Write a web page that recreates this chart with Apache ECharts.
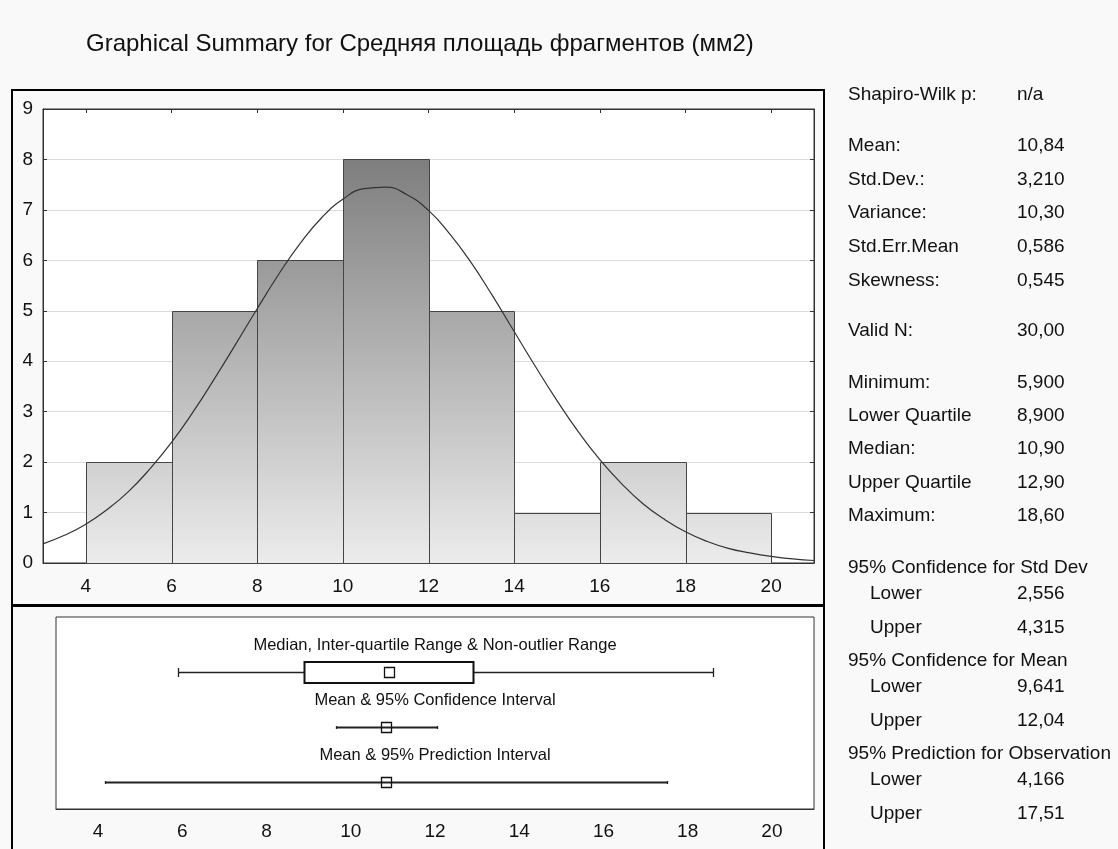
<!DOCTYPE html>
<html><head><meta charset="utf-8">
<script src="https://cdn.jsdelivr.net/npm/echarts@6/dist/echarts.min.js"></script>
<style>html,body{margin:0;padding:0;background:#f9f9f9}#c{width:1118px;height:849px}</style>
</head><body><div id="c"></div>
<script>
// ---------- data ----------
const titleText = 'Graphical Summary for Средняя площадь фрагментов (мм2)';
const binEdges = [4, 6, 8, 10, 12, 14, 16, 18, 20];
const binCounts = [2, 5, 6, 8, 5, 1, 2, 1];
const xTicks = [4, 6, 8, 10, 12, 14, 16, 18, 20];
const curveX = [3,3.5,4,4.5,5,5.5,6,6.5,7,7.5,8,8.5,9,9.5,10,10.5,11,11.5,12,12.5,13,13.5,14,14.5,15,15.5,16,16.5,17,17.5,18,18.5,19,19.5,20,20.5,21];
const curveY = [0.38,0.55,0.77,1.06,1.42,1.87,2.39,2.99,3.65,4.34,5.04,5.72,6.33,6.84,7.21,7.42,7.45,7.30,6.99,6.52,5.95,5.29,4.59,3.89,3.22,2.60,2.05,1.58,1.18,0.87,0.62,0.43,0.29,0.20,0.13,0.08,0.05];
const rangeSummary = [5.9, 8.9, 10.9, 12.9, 18.6]; // min, Q1, median, Q3, max
const meanCI = [9.641, 10.84, 12.04];             // lower, mean, upper
const meanPI = [4.166, 10.84, 17.51];             // lower, mean, upper
const boxRowLabels = ['Median, Inter-quartile Range & Non-outlier Range', 'Mean & 95% Confidence Interval', 'Mean & 95% Prediction Interval'];
const statLabels = ['Shapiro-Wilk p:', 'Mean:', 'Std.Dev.:', 'Variance:', 'Std.Err.Mean', 'Skewness:', 'Valid N:', 'Minimum:', 'Lower Quartile', 'Median:', 'Upper Quartile', 'Maximum:', '95% Confidence for Std Dev', 'Lower', 'Upper', '95% Confidence for Mean', 'Lower', 'Upper', '95% Prediction for Observation', 'Lower', 'Upper'];
const statValues = ['n/a', '10,84', '3,210', '10,30', '0,586', '0,545', '30,00', '5,900', '8,900', '10,90', '12,90', '18,60', '', '2,556', '4,315', '', '9,641', '12,04', '', '4,166', '17,51'];

// ---------- layout (not data) ----------
const statRowY = [95, 146, 180, 213, 247, 281, 331, 383, 416, 449, 483, 516, 568, 594, 628, 661, 687, 721, 754, 780, 814];
const statIndent = [0,0,0,0,0,0,0,0,0,0,0,0,0,1,1,0,1,1,0,1,1];
const FONT = '"Liberation Sans", Arial, sans-serif';
const TXT = '#111';

const chart = echarts.init(document.getElementById('c'));
const maxCount = Math.max.apply(null, binCounts);

const graphics = [
  { type: 'text', x: 86, y: 44, style: { text: titleText, font: '24px ' + FONT, fill: TXT, align: 'left', verticalAlign: 'middle' } },
  { type: 'line', shape: { x1: 12, y1: 90, x2: 12, y2: 860 }, style: { stroke: '#000', lineWidth: 2 } },
  { type: 'line', shape: { x1: 11, y1: 90, x2: 825, y2: 90 }, style: { stroke: '#000', lineWidth: 2 } },
  { type: 'line', shape: { x1: 824, y1: 90, x2: 824, y2: 860 }, style: { stroke: '#000', lineWidth: 2 } },
  { type: 'line', shape: { x1: 11, y1: 605.5, x2: 825, y2: 605.5 }, style: { stroke: '#000', lineWidth: 3 } }
];
statLabels.forEach(function (lab, i) {
  graphics.push({ type: 'text', x: statIndent[i] ? 870 : 848, y: statRowY[i],
    style: { text: lab, font: '19px ' + FONT, fill: TXT, align: 'left', verticalAlign: 'middle' } });
  if (statValues[i]) {
    graphics.push({ type: 'text', x: 1017, y: statRowY[i],
      style: { text: statValues[i], font: '19px ' + FONT, fill: TXT, align: 'left', verticalAlign: 'middle' } });
  }
});

function crisp(v) { return Math.round(v) + 0.5; }

const option = {
  backgroundColor: '#f9f9f9',
  animation: false,
  graphic: graphics,
  grid: [
    { left: 43, top: 109, width: 771, height: 454, show: true, backgroundColor: '#fff', borderColor: '#333', borderWidth: 1, outerBoundsMode: 'none' },
    { left: 56, top: 617, width: 758, height: 192, show: true, backgroundColor: '#fff', borderColor: '#333', borderWidth: 1, outerBoundsMode: 'none' }
  ],
  xAxis: [
    { type: 'value', gridIndex: 0, min: 3, max: 21, position: 'bottom',
      axisLine: { show: true, onZero: false, lineStyle: { color: '#333' } },
      axisTick: { show: true, inside: true, length: 4, customValues: xTicks, lineStyle: { color: '#333' } },
      axisLabel: { show: true, customValues: xTicks, margin: 14, fontSize: 19, fontFamily: FONT, color: TXT },
      splitLine: { show: false } },
    { type: 'value', gridIndex: 0, min: 3, max: 21, position: 'top',
      axisLine: { show: true, onZero: false, lineStyle: { color: '#333' } },
      axisTick: { show: true, inside: true, length: 4, customValues: xTicks, lineStyle: { color: '#333' } },
      axisLabel: { show: false }, splitLine: { show: false } },
    { type: 'value', gridIndex: 1, min: 3, max: 21, position: 'bottom',
      axisLine: { show: true, onZero: false, lineStyle: { color: '#333' } },
      axisTick: { show: false },
      axisLabel: { show: true, customValues: xTicks, margin: 13, fontSize: 19, fontFamily: FONT, color: TXT },
      splitLine: { show: false } }
  ],
  yAxis: [
    { type: 'value', gridIndex: 0, min: 0, max: 9, interval: 1, position: 'left',
      axisLine: { show: true, lineStyle: { color: '#333' } },
      axisTick: { show: true, inside: true, length: 4, lineStyle: { color: '#333' } },
      axisLabel: { show: true, margin: 10, fontSize: 19, fontFamily: FONT, color: TXT, padding: [5, 0, 0, 0] },
      splitLine: { show: true, lineStyle: { color: '#dcdcdc', width: 1 } } },
    { type: 'value', gridIndex: 0, min: 0, max: 9, interval: 1, position: 'right',
      axisLine: { show: true, lineStyle: { color: '#333' } },
      axisTick: { show: true, inside: true, length: 4, lineStyle: { color: '#333' } },
      axisLabel: { show: false }, splitLine: { show: false } },
    { type: 'value', gridIndex: 1, min: 0, max: 7, inverse: true, show: false }
  ],
  series: [
    { type: 'custom', xAxisIndex: 0, yAxisIndex: 0, z: 2,
      data: binCounts.map(function (c, i) { return [binEdges[i], binEdges[i + 1], c]; }),
      encode: { x: [0, 1], y: 2 },
      renderItem: function (params, api) {
        const p0 = api.coord([api.value(0), 0]);
        const p1 = api.coord([api.value(1), api.value(2)]);
        const gTop = api.coord([api.value(0), maxCount])[1];
        const x0 = crisp(p0[0]), x1 = crisp(p1[0]), yT = crisp(p1[1]), yB = crisp(p0[1]);
        return { type: 'rect', shape: { x: x0, y: yT, width: x1 - x0, height: yB - yT },
          style: { fill: new echarts.graphic.LinearGradient(0, gTop, 0, p0[1], [
              { offset: 0, color: '#7e7e7e' }, { offset: 1, color: '#ececec' }], true),
            stroke: '#444', lineWidth: 1 } };
      } },
    { type: 'line', xAxisIndex: 0, yAxisIndex: 0, z: 3, smooth: true, showSymbol: false, symbol: 'none',
      data: curveX.map(function (x, i) { return [x, curveY[i]]; }),
      lineStyle: { color: '#333', width: 1.2 } },
    { type: 'custom', xAxisIndex: 2, yAxisIndex: 2, z: 3,
      data: [[0], [1], [2]],
      renderItem: function (params, api) {
        const k = params.dataIndex;
        const row = 2 + 2 * k;
        const cy = crisp(api.coord([3, row])[1]);
        const X = function (v) { return crisp(api.coord([v, row])[0]); };
        const els = [];
        const dark = '#222';
        if (k === 0) {
          const mn = X(rangeSummary[0]), q1 = X(rangeSummary[1]), md = X(rangeSummary[2]), q3 = X(rangeSummary[3]), mx = X(rangeSummary[4]);
          els.push({ type: 'line', shape: { x1: mn, y1: cy, x2: q1, y2: cy }, style: { stroke: dark, lineWidth: 1.3 } });
          els.push({ type: 'line', shape: { x1: q3, y1: cy, x2: mx, y2: cy }, style: { stroke: dark, lineWidth: 1.3 } });
          els.push({ type: 'line', shape: { x1: mn, y1: cy - 4.5, x2: mn, y2: cy + 4.5 }, style: { stroke: dark, lineWidth: 1.3 } });
          els.push({ type: 'line', shape: { x1: mx, y1: cy - 4.5, x2: mx, y2: cy + 4.5 }, style: { stroke: dark, lineWidth: 1.3 } });
          els.push({ type: 'rect', shape: { x: q1, y: cy - 10.5, width: q3 - q1, height: 21 }, style: { fill: '#fff', stroke: '#111', lineWidth: 2 } });
          els.push({ type: 'rect', shape: { x: md - 5, y: cy - 5, width: 10, height: 10 }, style: { fill: 'none', stroke: '#111', lineWidth: 1.3 } });
        } else {
          const arr = k === 1 ? meanCI : meanPI;
          const lo = X(arr[0]), m = X(arr[1]), hi = X(arr[2]);
          els.push({ type: 'line', shape: { x1: lo, y1: cy, x2: hi, y2: cy }, style: { stroke: dark, lineWidth: 1.8 } });
          els.push({ type: 'line', shape: { x1: lo, y1: cy - 1.5, x2: lo, y2: cy + 1.5 }, style: { stroke: dark, lineWidth: 1.3 } });
          els.push({ type: 'line', shape: { x1: hi, y1: cy - 1.5, x2: hi, y2: cy + 1.5 }, style: { stroke: dark, lineWidth: 1.3 } });
          els.push({ type: 'rect', shape: { x: m - 5, y: cy - 5, width: 10, height: 10 }, style: { fill: 'none', stroke: '#111', lineWidth: 1.3 } });
        }
        return { type: 'group', children: els };
      } },
    { type: 'custom', xAxisIndex: 2, yAxisIndex: 2, z: 4,
      data: boxRowLabels.map(function (t, i) { return [i]; }),
      renderItem: function (params, api) {
        const cs = params.coordSys;
        const row = 1 + 2 * params.dataIndex;
        return { type: 'text', x: cs.x + cs.width / 2, y: api.coord([3, row])[1] + 1.5,
          style: { text: boxRowLabels[params.dataIndex], font: '16.5px ' + FONT, fill: TXT, align: 'center', verticalAlign: 'middle' } };
      } }
  ]
};
chart.setOption(option);
</script>
</body></html>
